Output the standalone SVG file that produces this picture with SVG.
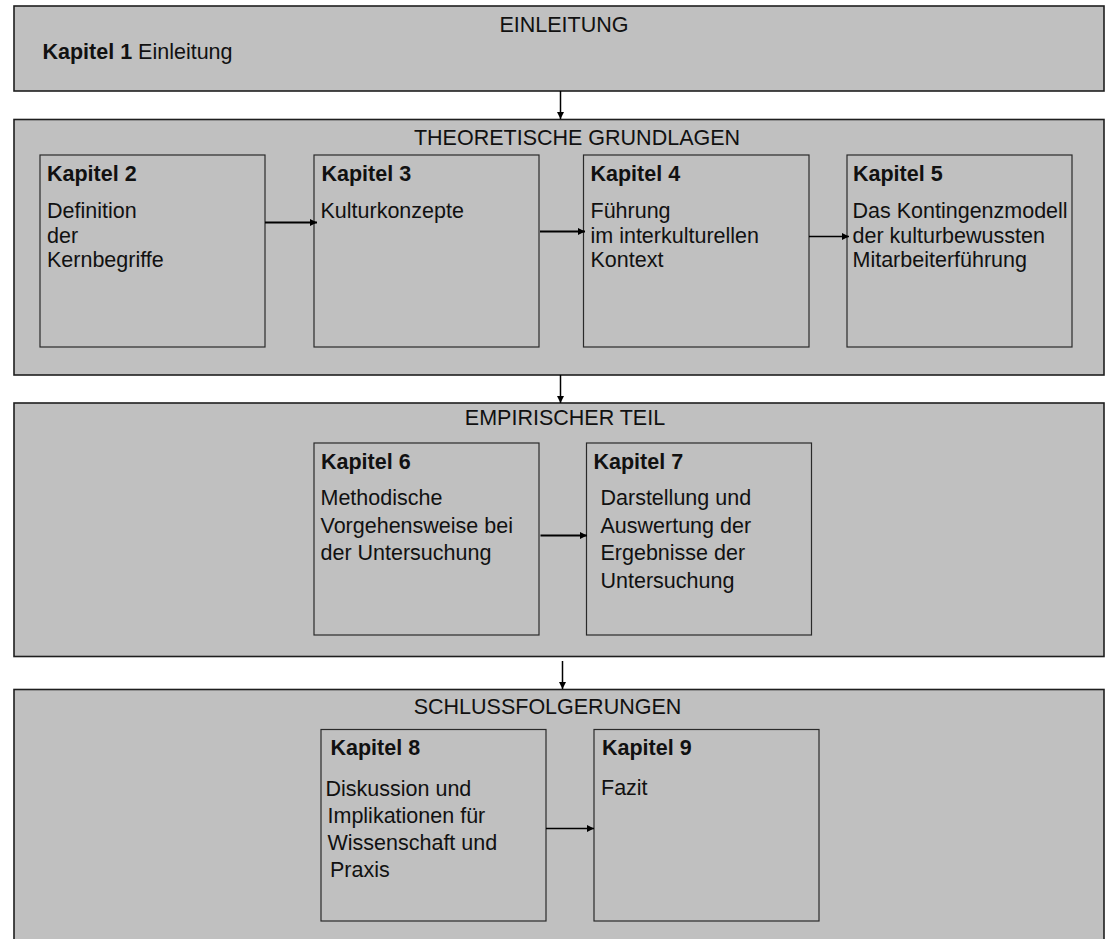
<svg xmlns="http://www.w3.org/2000/svg" width="1114" height="939" viewBox="0 0 1114 939">
<style>
.panel{fill:#c0c0c0;stroke:#1e1e1e;stroke-width:1.6}
.box{fill:#c0c0c0;stroke:#2a2a2a;stroke-width:1.2}
text{font-family:"Liberation Sans",Arial,sans-serif;font-size:21.5px;fill:#111}
.b{font-weight:bold}
.t{text-anchor:middle}
.conn{stroke:#000;fill:none}
</style>
<defs>
<marker id="ah" markerUnits="userSpaceOnUse" markerWidth="8" markerHeight="8" refX="7" refY="3.5" orient="auto">
<path d="M0,0 L7,3.5 L0,7 z" fill="#000"/>
</marker>
</defs>
<rect width="1114" height="939" fill="#fff"/>

<g id="einleitung">
<rect class="panel" x="14" y="6" width="1090" height="85"/>
<text class="t" x="564" y="32">EINLEITUNG</text>
<text x="42.5" y="59"><tspan class="b">Kapitel 1</tspan> Einleitung</text>
</g>

<g id="theoretische-grundlagen">
<rect class="panel" x="14" y="119.5" width="1090" height="255.5"/>
<text class="t" x="577" y="145">THEORETISCHE GRUNDLAGEN</text>
</g>

<g id="kapitel2">
<rect class="box" x="40" y="155" width="225" height="192"/>
<text class="b" x="47" y="181">Kapitel 2</text>
<text x="47" y="218">Definition</text>
<text x="47" y="243">der</text>
<text x="47" y="267">Kernbegriffe</text>
</g>

<g id="kapitel3">
<rect class="box" x="314" y="155" width="225" height="192"/>
<text class="b" x="321.5" y="181">Kapitel 3</text>
<text x="320.5" y="218">Kulturkonzepte</text>
</g>

<g id="kapitel4">
<rect class="box" x="583.5" y="155" width="225.5" height="192"/>
<text class="b" x="590.5" y="181">Kapitel 4</text>
<text x="590.5" y="218">Führung</text>
<text x="590.5" y="243">im interkulturellen</text>
<text x="590.5" y="267">Kontext</text>
</g>

<g id="kapitel5">
<rect class="box" x="847" y="155" width="225" height="192"/>
<text class="b" x="853" y="181">Kapitel 5</text>
<text x="852.5" y="218">Das Kontingenzmodell</text>
<text x="852.5" y="243">der kulturbewussten</text>
<text x="852.5" y="267">Mitarbeiterführung</text>
</g>

<g id="empirischer-teil">
<rect class="panel" x="14" y="403" width="1090" height="253.5"/>
<text class="t" x="565" y="425">EMPIRISCHER TEIL</text>
</g>

<g id="kapitel6">
<rect class="box" x="314" y="443" width="225" height="192"/>
<text class="b" x="321" y="469">Kapitel 6</text>
<text x="320.5" y="505">Methodische</text>
<text x="320.5" y="532.5">Vorgehensweise bei</text>
<text x="320.5" y="560">der Untersuchung</text>
</g>

<g id="kapitel7">
<rect class="box" x="586.5" y="443" width="225" height="192"/>
<text class="b" x="593.5" y="469">Kapitel 7</text>
<text x="600.5" y="505">Darstellung und</text>
<text x="600.5" y="532.5">Auswertung der</text>
<text x="600.5" y="560">Ergebnisse der</text>
<text x="600.5" y="588">Untersuchung</text>
</g>

<g id="schlussfolgerungen">
<rect class="panel" x="14" y="689.5" width="1090" height="262"/>
<text class="t" x="547.5" y="713.5">SCHLUSSFOLGERUNGEN</text>
</g>

<g id="kapitel8">
<rect class="box" x="321" y="729.5" width="225" height="191.5"/>
<text class="b" x="330.5" y="755">Kapitel 8</text>
<text x="325.5" y="795.5">Diskussion und</text>
<text x="327.5" y="822.5">Implikationen für</text>
<text x="327.5" y="850">Wissenschaft und</text>
<text x="330" y="876.5">Praxis</text>
</g>

<g id="kapitel9">
<rect class="box" x="594" y="729.5" width="225" height="191.5"/>
<text class="b" x="602" y="755">Kapitel 9</text>
<text x="601" y="795">Fazit</text>
</g>

<g id="connectors">
<line class="conn" stroke-width="1.5" x1="560.5" y1="91" x2="560.5" y2="119" marker-end="url(#ah)"/>
<line class="conn" stroke-width="1.5" x1="560.5" y1="375" x2="560.5" y2="403" marker-end="url(#ah)"/>
<line class="conn" stroke-width="1.5" x1="562.5" y1="661" x2="562.5" y2="689" marker-end="url(#ah)"/>
<line class="conn" stroke-width="2" x1="265" y1="222.5" x2="317" y2="222.5" marker-end="url(#ah)"/>
<line class="conn" stroke-width="2" x1="540" y1="231.5" x2="585" y2="231.5" marker-end="url(#ah)"/>
<line class="conn" stroke-width="1.5" x1="809" y1="236.5" x2="849" y2="236.5" marker-end="url(#ah)"/>
<line class="conn" stroke-width="2" x1="540.5" y1="535.5" x2="587" y2="535.5" marker-end="url(#ah)"/>
<line class="conn" stroke-width="1.5" x1="546" y1="828.5" x2="594" y2="828.5" marker-end="url(#ah)"/>
</g>
</svg>
